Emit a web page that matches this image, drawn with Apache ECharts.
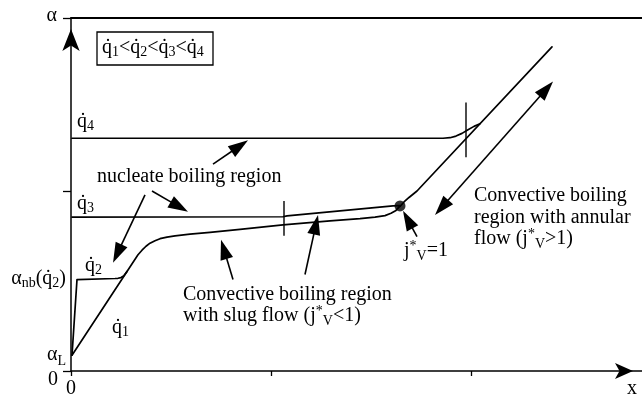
<!DOCTYPE html>
<html>
<head>
<meta charset="utf-8">
<script src="https://cdn.jsdelivr.net/npm/echarts@6/dist/echarts.min.js"></script>
<style>
html, body { margin: 0; padding: 0; background: #fff; }
#chart { width: 642px; height: 399px; }
</style>
</head>
<body>
<div id="chart"></div>
<script>
// Heat transfer coefficient α versus vapour quality x for increasing heat fluxes q̇1 < q̇2 < q̇3 < q̇4

// axis extents
const xMax = 2.855;
const yMax = 1.961;
const xTickValues = [0, 1, 2];
const yTickValues = [0, 1, yMax];
const alphaL = 0.088;     // liquid-only coefficient
const alphaNb = 0.51;     // nucleate boiling coefficient at q̇2
const xLabelPos = 2.805;  // where the "x" axis name sits

// boiling curves [x, α]
const curveQ1 = [
  [0.005, 0.088], [0.335, 0.646], [0.355, 0.671], [0.375, 0.693], [0.395, 0.710],
  [0.42, 0.724], [0.445, 0.735], [0.48, 0.744], [0.52, 0.751], [0.595, 0.760],
  [0.695, 0.770], [0.845, 0.787], [1.06, 0.812], [1.295, 0.834], [1.445, 0.846],
  [1.52, 0.855], [1.57, 0.863], [1.60, 0.876], [1.625, 0.892], [1.645, 0.917]
];
const curveQ2 = [
  [0.005, 0.088], [0.03, 0.508], [0.22, 0.514], [0.235, 0.515], [0.25, 0.519],
  [0.265, 0.530], [0.28, 0.553]
];
const curveQ3 = [
  [0.005, 0.855], [1.06, 0.857], [1.08, 0.862], [1.61, 0.917], [1.645, 0.919]
];
const curveAnnular = [
  [1.645, 0.914], [1.665, 0.939], [1.69, 0.964], [1.73, 1.0], [2.405, 1.801]
];
const curveQ4 = [
  [0.005, 1.293], [1.86, 1.293], [1.895, 1.296], [1.925, 1.305], [1.955, 1.320],
  [1.985, 1.340], [2.015, 1.359], [2.045, 1.374]
];

// regime boundaries: [x, α from, α to]
const regimeMarks = [
  [1.065, 0.751, 0.945],
  [1.975, 1.188, 1.492]
];

// onset of annular flow, j*V = 1
const transitionPoint = [[1.645, 0.917]];

// pointers: [x tail, α tail, x tip, α tip, double-headed]
const pointers = [
  [0.71, 1.149, 0.885, 1.282, 0],
  [0.405, 1.0, 0.585, 0.884, 0],
  [0.37, 0.978, 0.21, 0.602, 0],
  [0.81, 0.508, 0.75, 0.729, 0],
  [1.17, 0.536, 1.235, 0.867, 0],
  [1.73, 0.746, 1.66, 0.890, 0],
  [1.82, 0.867, 2.41, 1.608, 1]
];

const FONT = 'Liberation Serif';
const INK = '#000';

const richStyles = {
  b: { fontFamily: FONT, fontSize: 20, color: INK },
  s: { fontFamily: FONT, fontSize: 14, color: INK, padding: [8, 0, 0, 0] },
  sl: { fontFamily: FONT, fontSize: 14, color: INK, padding: [12, 0, 0, 0] },
  sv: { fontFamily: FONT, fontSize: 14, color: INK, padding: [11, 0, 0, 0] },
  sup: { fontFamily: FONT, fontSize: 14, color: INK, padding: [0, 0, 10, 0] }
};

const qd = 'q\u0307';

function label(x, y, text) {
  return {
    type: 'text',
    x: x,
    y: y,
    silent: true,
    style: {
      text: text,
      fontFamily: FONT,
      fontSize: 20,
      fill: INK,
      align: 'left',
      verticalAlign: 'middle',
      rich: richStyles
    }
  };
}

function curveSeries(name, data) {
  return {
    name: name,
    type: 'line',
    data: data,
    showSymbol: false,
    symbol: 'none',
    smooth: false,
    silent: true,
    animation: false,
    lineStyle: { color: INK, width: 1.7, join: 'round', cap: 'round' }
  };
}

function arrowHead(tip, tail, L, W) {
  const dx = tip[0] - tail[0], dy = tip[1] - tail[1];
  const len = Math.hypot(dx, dy) || 1;
  const ux = dx / len, uy = dy / len;
  const bx = tip[0] - ux * L, by = tip[1] - uy * L;
  return [
    [tip[0], tip[1]],
    [bx - uy * W / 2, by + ux * W / 2],
    [bx + uy * W / 2, by - ux * W / 2]
  ];
}

const chart = echarts.init(document.getElementById('chart'), null, { renderer: 'canvas' });

chart.setOption({
  animation: false,
  backgroundColor: '#fff',
  grid: { left: 71, right: 0, top: 18, bottom: 26, containLabel: false },
  xAxis: [
    {
      type: 'value',
      min: 0,
      max: xMax,
      interval: 1,
      position: 'bottom',
      splitLine: { show: false },
      axisLine: {
        show: true,
        symbol: ['none', 'arrow'],
        symbolSize: [12, 18],
        symbolOffset: [0, -9],
        lineStyle: { color: INK, width: 1.5 }
      },
      axisTick: { show: true, length: 5, inside: false, customValues: xTickValues, lineStyle: { color: INK, width: 1.3 } },
      axisLabel: {
        show: true,
        customValues: [0, xLabelPos],
        margin: 8,
        fontFamily: FONT,
        fontSize: 20,
        color: INK,
        formatter: function (v) { return v === 0 ? '0' : 'x'; }
      }
    },
    {
      type: 'value',
      min: 0,
      max: xMax,
      position: 'top',
      splitLine: { show: false },
      axisLine: { show: true, lineStyle: { color: INK, width: 1.8 } },
      axisTick: { show: false },
      axisLabel: { show: false }
    }
  ],
  yAxis: {
    type: 'value',
    min: 0,
    max: yMax,
    splitLine: { show: false },
    axisLine: {
      show: true,
      symbol: ['none', 'arrow'],
      symbolSize: [13, 22],
      symbolOffset: [0, -11],
      lineStyle: { color: INK, width: 1.5 }
    },
    axisTick: { show: true, length: 8, inside: false, customValues: yTickValues, lineStyle: { color: INK, width: 1.3 } },
    axisLabel: {
      show: true,
      customValues: [0, alphaL, alphaNb, yMax],
      margin: 5,
      fontFamily: FONT,
      fontSize: 20,
      color: INK,
      rich: Object.assign({
        zero: { fontFamily: FONT, fontSize: 20, color: INK, padding: [18, 8, 0, 0] },
        top: { fontFamily: FONT, fontSize: 20, color: INK, padding: [0, 9, 4, 0] }
      }, richStyles),
      formatter: function (v) {
        if (v === 0) return '{zero|0}';
        if (v === alphaL) return '{b|α}{sl|L}';
        if (v === alphaNb) return '{b|α}{s|nb}{b|(' + qd + '}{s|2}{b|)}';
        return '{top|α}';
      }
    }
  },
  series: [
    curveSeries('q1', curveQ1),
    curveSeries('q2', curveQ2),
    curveSeries('q3', curveQ3),
    curveSeries('annular', curveAnnular),
    curveSeries('q4', curveQ4),
    {
      name: 'regime marks',
      type: 'custom',
      silent: true,
      clip: false,
      data: regimeMarks,
      encode: { x: 0, y: [1, 2] },
      renderItem: function (params, api) {
        const a = api.coord([api.value(0), api.value(1)]);
        const b = api.coord([api.value(0), api.value(2)]);
        return {
          type: 'line',
          shape: { x1: a[0], y1: a[1], x2: b[0], y2: b[1] },
          style: { stroke: INK, lineWidth: 1.4 }
        };
      }
    },
    {
      name: 'j*V = 1',
      type: 'scatter',
      data: transitionPoint,
      symbol: 'circle',
      symbolSize: 11,
      silent: true,
      itemStyle: { color: INK }
    },
    {
      name: 'pointers',
      type: 'custom',
      silent: true,
      clip: false,
      data: pointers,
      encode: { x: [0, 2], y: [1, 3] },
      renderItem: function (params, api) {
        const tail = api.coord([api.value(0), api.value(1)]);
        const tip = api.coord([api.value(2), api.value(3)]);
        const both = api.value(4) === 1;
        const L = 20, W = 13;
        const dx = tip[0] - tail[0], dy = tip[1] - tail[1];
        const len = Math.hypot(dx, dy);
        const ux = dx / len, uy = dy / len;
        const end = [tip[0] - ux * L * 0.8, tip[1] - uy * L * 0.8];
        const start = both ? [tail[0] + ux * L * 0.8, tail[1] + uy * L * 0.8] : tail;
        const children = [
          {
            type: 'line',
            shape: { x1: start[0], y1: start[1], x2: end[0], y2: end[1] },
            style: { stroke: INK, lineWidth: 1.6 }
          },
          {
            type: 'polygon',
            shape: { points: arrowHead(tip, tail, L, W) },
            style: { fill: INK }
          }
        ];
        if (both) {
          children.push({
            type: 'polygon',
            shape: { points: arrowHead(tail, tip, L, W) },
            style: { fill: INK }
          });
        }
        return { type: 'group', children: children };
      }
    }
  ],
  graphic: [
    {
      type: 'rect',
      silent: true,
      shape: { x: 97, y: 32, width: 116, height: 33 },
      style: { fill: 'none', stroke: INK, lineWidth: 1.3 }
    },
    label(102, 48, '{b|' + qd + '}{s|1}{b|<' + qd + '}{s|2}{b|<' + qd + '}{s|3}{b|<' + qd + '}{s|4}'),
    label(77, 122, '{b|' + qd + '}{s|4}'),
    label(77, 204, '{b|' + qd + '}{s|3}'),
    label(85, 266, '{b|' + qd + '}{s|2}'),
    label(112, 328, '{b|' + qd + '}{s|1}'),
    label(97, 177, 'nucleate boiling region'),
    label(183, 295, 'Convective boiling region'),
    label(183, 316, '{b|with slug flow (j}{sup|*}{sv|V}{b|<1)}'),
    label(404, 251, '{b|j}{sup|*}{sv|V}{b|=1}'),
    label(474, 196, 'Convective boiling'),
    label(474, 218, 'region with annular'),
    label(474, 239, '{b|flow (j}{sup|*}{sv|V}{b|>1)}')
  ]
});
</script>
</body>
</html>
